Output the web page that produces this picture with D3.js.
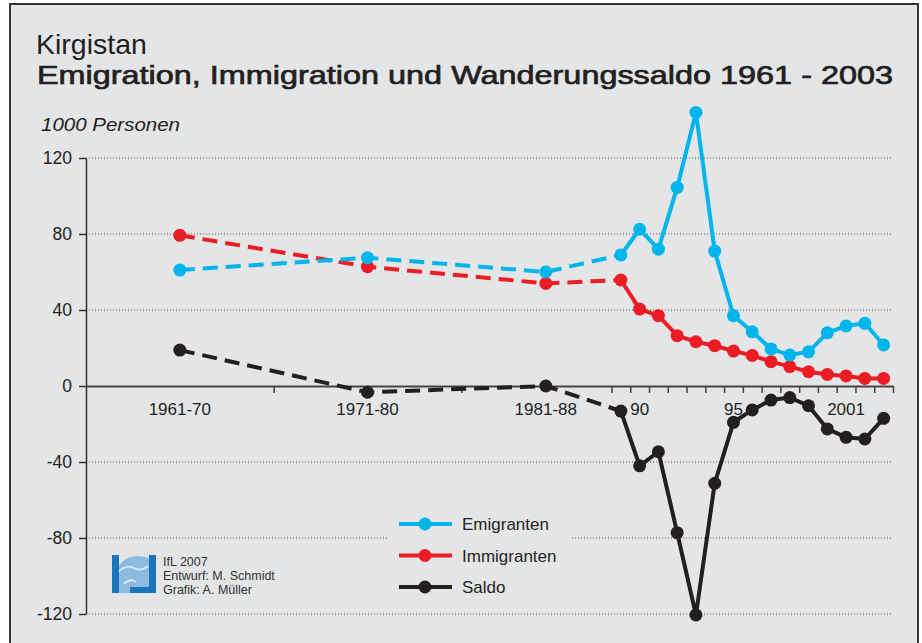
<!DOCTYPE html>
<html>
<head>
<meta charset="utf-8">
<script src="https://cdn.jsdelivr.net/npm/d3@7"></script>
<style>
  body { margin: 0; background: #fff; }
  svg { display: block; font-family: "Liberation Sans", Arial, sans-serif; }
</style>
</head>
<body>
<script>

// x positions are on a year axis, periods sit inside their span
var periods = ["1961-70", "1971-80", "1981-88"];
var periodPos = [1966, 1976, 1985.5];
var years = [1989, 1990, 1991, 1992, 1993, 1994, 1995, 1996, 1997, 1998, 1999, 2000, 2001, 2002, 2003];

var emigranten  = [61, 67.5, 60, 69, 82.5, 72, 104.5, 144, 71, 37, 28.5, 19.5, 16.3, 18, 28, 31.6, 33, 21.6];
var immigranten = [79.3, 62.8, 54, 55.8, 40.5, 37, 26.5, 23.3, 21.2, 18.4, 16.1, 12.8, 10.2, 7.5, 6.1, 5.3, 4, 4];
var saldo       = [18.9, -3.3, 0, -13.2, -42, -34.6, -77.2, -120.5, -51.2, -19.1, -12.6, -7.4, -6.1, -10.4, -22.6, -27, -27.9, -17];

var yTicks = [-120, -80, -40, 0, 40, 80, 120];
var xBounds = [1971, 1981, 1989, 1990, 1991, 1992, 1993, 1994, 1995, 1996, 1997, 1998, 1999, 2000, 2001, 2002, 2003, 2004];
var xLabels = ["1961-70", "1971-80", "1981-88", "90", "95", "2001"];
var xLabelPos = [1966, 1976, 1985.5, 1990.5, 1995.5, 2001.5];

var seriesNames = ["Emigranten", "Immigranten", "Saldo"];
var seriesColors = ["#00b4ec", "#ec1c24", "#231f20"];

var W = 922, H = 643;
var bg = "#e4e5e7";

var svg = d3.select("body").append("svg")
            .attr("width", W)
            .attr("height", H);

svg.append("rect")
   .attr("x", 10).attr("y", 4)
   .attr("width", 908).attr("height", H + 10)
   .attr("fill", bg)
   .attr("stroke", "#333")
   .attr("stroke-width", 2);

var x = d3.scaleLinear().domain([1961, 2004]).range([86, 893]);
var y = d3.scaleLinear().domain([-120, 120]).range([614, 158]);

// titles
svg.append("text")
   .attr("x", 36).attr("y", 54)
   .attr("font-size", 28.5)
   .attr("fill", "#231f20")
   .text("Kirgistan");

// medium weight look: regular glyphs with a thin stroke
svg.append("text")
   .attr("x", 37).attr("y", 84)
   .attr("font-size", 26)
   .attr("fill", "#231f20")
   .attr("stroke", "#231f20")
   .attr("stroke-width", 0.7)
   .attr("textLength", 856)
   .attr("lengthAdjust", "spacingAndGlyphs")
   .text("Emigration, Immigration und Wanderungssaldo 1961 - 2003");

svg.append("text")
   .attr("x", 41).attr("y", 131)
   .attr("font-size", 18)
   .attr("font-style", "italic")
   .attr("fill", "#231f20")
   .attr("textLength", 139)
   .attr("lengthAdjust", "spacingAndGlyphs")
   .text("1000 Personen");

// grid
svg.append("g").selectAll("line")
   .data(yTicks.filter(function(d){ return d != 0; }))
   .enter().append("line")
   .attr("x1", 86).attr("x2", 893)
   .attr("y1", function(d){ return y(d); })
   .attr("y2", function(d){ return y(d); })
   .attr("stroke", "#555")
   .attr("stroke-width", 1)
   .attr("stroke-dasharray", "1,2");

// axes
var yAxis = svg.append("g")
   .attr("transform", "translate(86,0)")
   .call(d3.axisLeft(y).tickValues(yTicks).tickSize(7).tickSizeOuter(0).tickPadding(7)
           .tickFormat(function(d){ return String(d); }));
yAxis.select(".domain").attr("stroke", "#333").attr("stroke-width", 1.5);
yAxis.selectAll(".tick line").attr("stroke", "#333").attr("stroke-width", 1.5);
yAxis.selectAll(".tick text")
     .attr("font-size", 17.5)
     .attr("font-family", "Liberation Sans, Arial, sans-serif")
     .attr("fill", "#231f20");

var xAxis = svg.append("g")
   .attr("transform", "translate(0," + y(0) + ")")
   .call(d3.axisBottom(x).tickValues(xBounds).tickSize(7).tickSizeOuter(0).tickFormat(""));
xAxis.select(".domain").attr("stroke", "#444").attr("stroke-width", 2);
xAxis.selectAll(".tick line").attr("stroke", "#444").attr("stroke-width", 1.5);

svg.append("g").selectAll("text")
   .data(xLabels)
   .enter().append("text")
   .attr("x", function(d, i){ return x(xLabelPos[i]); })
   .attr("y", y(0) + 29)
   .attr("text-anchor", "middle")
   .attr("font-size", 17)
   .attr("fill", "#231f20")
   .text(function(d){ return d; });

// series
var xs = periodPos.concat(years.map(function(d){ return d + 0.5; }));
var allSeries = [emigranten, immigranten, saldo];
var drawOrder = [1, 0, 2];

var line = d3.line()
             .x(function(d){ return x(d[0]); })
             .y(function(d){ return y(d[1]); });

drawOrder.forEach(function(s){
	var pts = xs.map(function(xv, i){ return [xv, allSeries[s][i]]; });
	var g = svg.append("g");

	// dashed part up to 1989
	g.append("path")
	 .attr("d", line(pts.slice(0, 4)))
	 .attr("fill", "none")
	 .attr("stroke", seriesColors[s])
	 .attr("stroke-width", 4)
	 .attr("stroke-dasharray", "15,8");

	g.append("path")
	 .attr("d", line(pts.slice(3)))
	 .attr("fill", "none")
	 .attr("stroke", seriesColors[s])
	 .attr("stroke-width", 4)
	 .attr("stroke-linejoin", "round");

	g.selectAll("circle")
	 .data(pts)
	 .enter().append("circle")
	 .attr("cx", function(d){ return x(d[0]); })
	 .attr("cy", function(d){ return y(d[1]); })
	 .attr("r", 6.5)
	 .attr("fill", seriesColors[s]);
});

// legend
var leg = svg.append("g");
leg.append("rect")
   .attr("x", 388).attr("y", 506)
   .attr("width", 182).attr("height", 98)
   .attr("fill", bg);

seriesNames.forEach(function(name, i){
	var ly = 524 + i * 31.5;
	leg.append("line")
	   .attr("x1", 399).attr("x2", 452)
	   .attr("y1", ly).attr("y2", ly)
	   .attr("stroke", seriesColors[i])
	   .attr("stroke-width", 4);
	leg.append("circle")
	   .attr("cx", 425).attr("cy", ly)
	   .attr("r", 6.5)
	   .attr("fill", seriesColors[i]);
	leg.append("text")
	   .attr("x", 462).attr("y", ly + 6)
	   .attr("font-size", 17)
	   .attr("fill", "#231f20")
	   .text(name);
});

// IfL logo + credits
var logo = svg.append("g");
logo.append("clipPath").attr("id", "lc")
    .append("rect").attr("x", 112).attr("y", 555).attr("width", 44).attr("height", 38);
logo.append("circle")
    .attr("cx", 138).attr("cy", 580).attr("r", 24)
    .attr("fill", "#8dbbe0")
    .attr("clip-path", "url(#lc)");
logo.append("path")
    .attr("d", "M118,572 q8,-8 16,-4 q6,4 14,-2 M124,584 q6,-6 12,-2")
    .attr("fill", "none")
    .attr("stroke", "#d6e6f3")
    .attr("stroke-width", 2);
logo.append("rect").attr("x", 112).attr("y", 555).attr("width", 7).attr("height", 38).attr("fill", "#1b75bb");
logo.append("rect").attr("x", 149).attr("y", 555).attr("width", 7).attr("height", 38).attr("fill", "#1b75bb");
logo.append("rect").attr("x", 130).attr("y", 587).attr("width", 26).attr("height", 6).attr("fill", "#1b75bb");

var credits = ["IfL 2007", "Entwurf: M. Schmidt", "Grafik: A. Müller"];
svg.append("g").selectAll("text")
   .data(credits)
   .enter().append("text")
   .attr("x", 163)
   .attr("y", function(d, i){ return 566 + i * 14; })
   .attr("font-size", 12.5)
   .attr("fill", "#333")
   .text(function(d){ return d; });

</script>
</body>
</html>
